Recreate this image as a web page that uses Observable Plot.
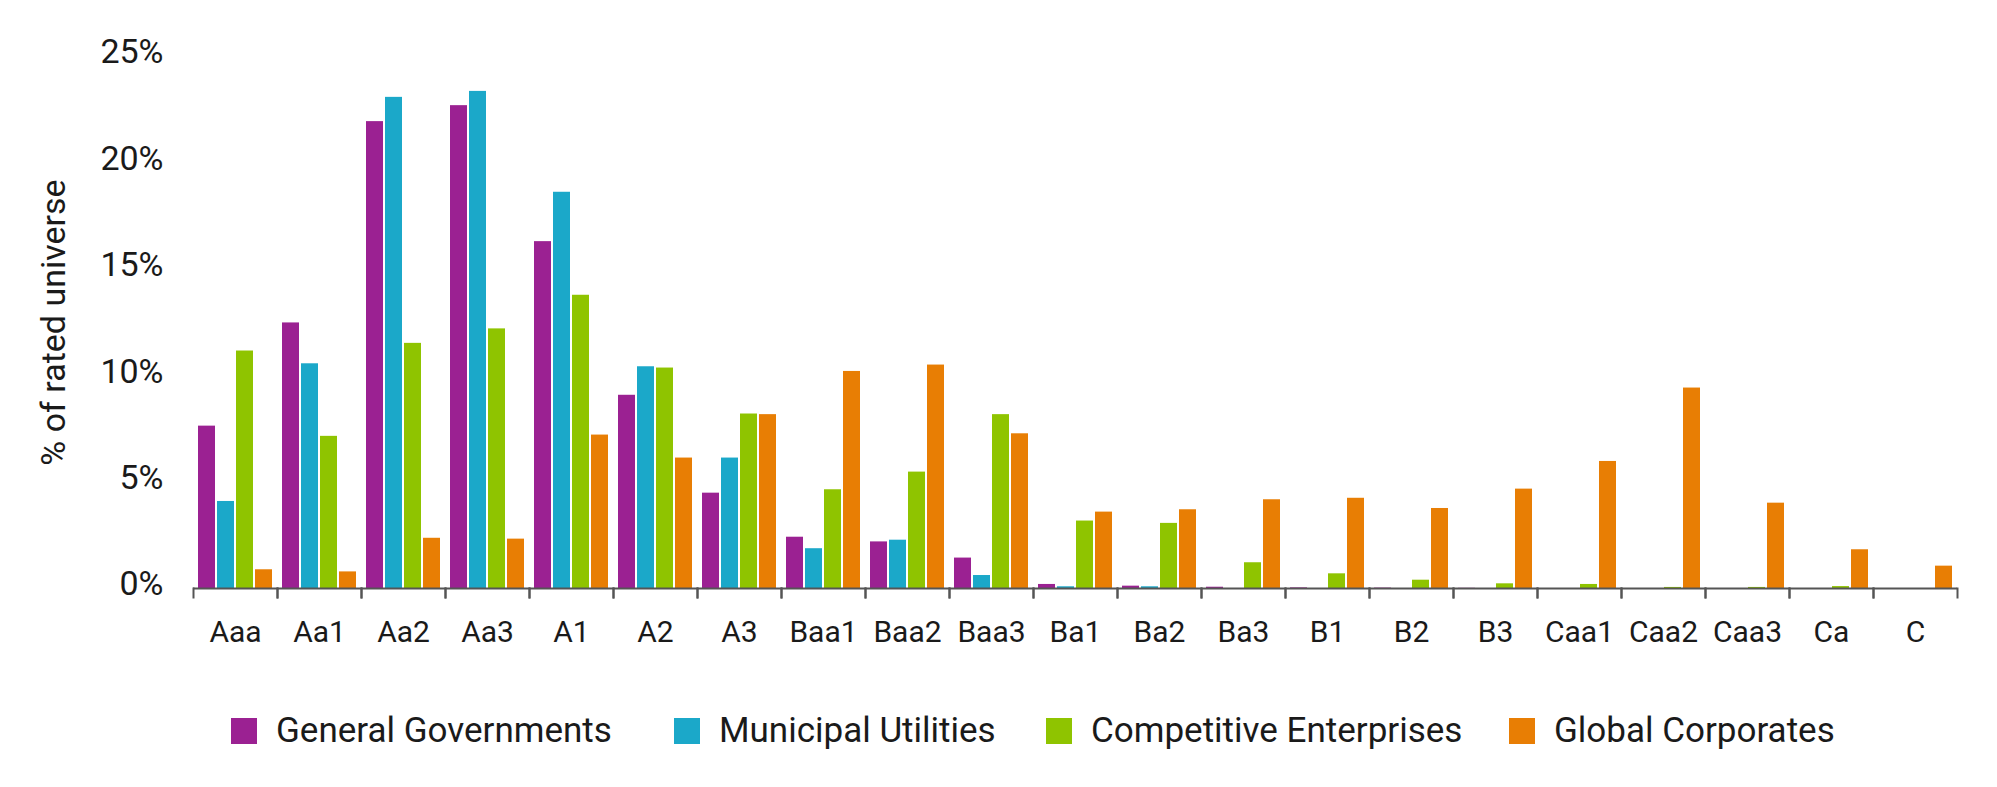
<!DOCTYPE html>
<html><head><meta charset="utf-8">
<script src="https://cdn.jsdelivr.net/npm/d3@7"></script>
<script src="https://cdn.jsdelivr.net/npm/@observablehq/plot@0.6"></script>
<style>
html,body{margin:0;padding:0;background:#fff;}
body{width:1997px;height:787px;overflow:hidden;font-family:Roboto, sans-serif;color:#1a1a1a;}
#chart svg{display:block;}
#legend{position:relative;height:26px;margin-top:38px;}
.item{position:absolute;top:0;display:flex;align-items:center;}
.sw{width:26px;height:26px;margin-right:19px;flex:none;}
.lab{font-size:35px;line-height:26px;white-space:nowrap;}
</style></head><body>
<div id="chart"></div>
<div id="legend"></div>
<script>
const ratings = ["Aaa","Aa1","Aa2","Aa3","A1","A2","A3","Baa1","Baa2","Baa3","Ba1","Ba2","Ba3","B1","B2","B3","Caa1","Caa2","Caa3","Ca","C"];
const seriesNames = ["General Governments","Municipal Utilities","Competitive Enterprises","Global Corporates"];
const seriesColors = ["#9b2192","#1ba8c9","#8fc400","#e87e04"];
const generalGovernments   = [7.63,12.48,21.94,22.69,16.3,9.08,4.48,2.41,2.19,1.43,0.19,0.11,0.06,0.03,0.02,0.01,0,0,0,0,0];
const municipalUtilities   = [4.09,10.56,23.08,23.36,18.62,10.42,6.13,1.87,2.27,0.61,0.08,0.08,0,0,0,0,0,0,0,0,0];
const competitiveEnterprises = [11.16,7.15,11.52,12.2,13.78,10.36,8.2,4.64,5.47,8.17,3.17,3.06,1.21,0.69,0.39,0.22,0.19,0.05,0.05,0.09,0];
const globalCorporates     = [0.88,0.78,2.36,2.32,7.21,6.13,8.17,10.2,10.5,7.27,3.59,3.7,4.17,4.24,3.76,4.67,5.97,9.42,4.01,1.82,1.05];
const yTicks = [0,5,10,15,20,25];
const yLabel = "% of rated universe";
const legendLeft = [231, 674, 1046, 1509];

const seriesValues = [generalGovernments, municipalUtilities, competitiveEnterprises, globalCorporates];
const table = [];
ratings.forEach((r, i) => seriesValues.forEach((vals, j) => table.push({rating: r, series: seriesNames[j], value: vals[i]})));

const plot = Plot.plot({
  width: 1997, height: 680,
  marginTop: 56, marginBottom: 92, marginLeft: 192, marginRight: 39,
  style: {fontFamily: "Roboto, sans-serif", color: "#1a1a1a", background: "white"},
  fx: {domain: ratings, padding: 0},
  x: {domain: seriesNames, paddingInner: 0.12, paddingOuter: 0.17, axis: null},
  y: {domain: [0, 25]},
  color: {domain: seriesNames, range: seriesColors},
  marks: [
    Plot.barY(table, {fx: "rating", x: "series", y: "value", fill: "series"}),
    Plot.ruleY([0], {stroke: "#555", strokeWidth: 2}),
    Plot.frame({anchor: "left", stroke: "#555", strokeWidth: 2, insetTop: 532, insetBottom: -9}),
    Plot.frame({anchor: "right", stroke: "#555", strokeWidth: 2, insetTop: 532, insetBottom: -9}),
    Plot.axisY({ticks: yTicks, tickSize: 0, tickPadding: 30, tickFormat: d => d + "%", fontSize: 34, dy: -4, label: null}),
    Plot.axisY({ticks: [], label: yLabel, labelAnchor: "center", labelArrow: "none", labelOffset: 153, fontSize: 34, dy: -29}),
    Plot.axisFx({anchor: "bottom", tickSize: 0, tickPadding: 32, fontSize: 30, label: null})
  ]
});
document.getElementById("chart").appendChild(plot);

const legend = d3.select("#legend");
seriesNames.forEach((name, i) => {
  const item = legend.append("div").attr("class", "item").style("left", legendLeft[i] + "px");
  item.append("div").attr("class", "sw").style("background", seriesColors[i]);
  item.append("div").attr("class", "lab").text(name);
});
</script>
</body></html>
